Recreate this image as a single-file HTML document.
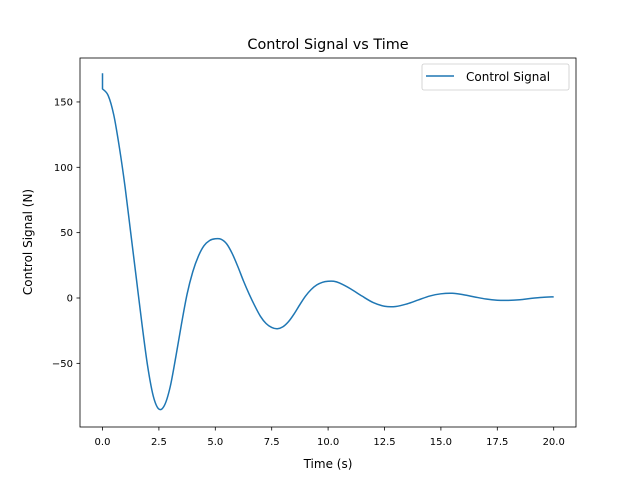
<!DOCTYPE html>
<html><head><meta charset="utf-8"><style>
body{margin:0;background:#fff;}
svg text{font-family:"DejaVu Sans","Liberation Sans",sans-serif;fill:#000;}
</style></head><body>
<svg width="640" height="480" viewBox="0 0 640 480">
<rect width="640" height="480" fill="#fff"/>
<text x="328" y="49" font-size="14.4" text-anchor="middle">Control Signal vs Time</text>
<g id="plot"></g>
<rect x="80" y="58" width="496" height="369" fill="none" stroke="#000" stroke-width="0.8"/>
<g id="xt"></g><g id="yt"></g>
<text x="328" y="468" font-size="12" text-anchor="middle">Time (s)</text>
<text transform="translate(32,242) rotate(-90)" font-size="12" text-anchor="middle">Control Signal (N)</text>
<g>
<rect x="422" y="64" width="147" height="26" rx="2" fill="#fff" stroke="#ccc" stroke-width="0.8"/>
<line x1="426" y1="76" x2="454" y2="76" stroke="#1f77b4" stroke-width="1.5"/>
<text x="466" y="81" font-size="12">Control Signal</text>
</g>
</svg>
<script>
const times=[0,0,0.25,0.5,0.75,1,1.25,1.5,1.75,2,2.25,2.5,2.75,3,3.25,3.5,3.75,4,4.25,4.5,4.75,5,5.25,5.5,5.75,6,6.25,6.5,6.75,7,7.25,7.5,7.75,8,8.25,8.5,8.75,9,9.25,9.5,9.75,10,10.25,10.5,11,11.5,12,12.5,13,13.5,14,14.5,15,15.5,16,16.5,17,17.5,18,18.5,19,19.5,20];
const signal=[172,160,155,140,115,85,50,15,-20,-52,-75,-85,-82,-68,-45,-20,3,20,32,40,44,45.3,45,41.5,34,24,13,3,-6,-14,-19.5,-22.5,-23.5,-22,-18,-12,-5,1.5,6.5,10,12,12.8,12.8,11.5,7,1.5,-3.5,-6.3,-6.5,-4.5,-1.5,1.5,3.2,3.6,2.5,0.8,-0.8,-1.7,-1.8,-1.3,-0.3,0.5,0.9];
const xTicks=[0,2.5,5,7.5,10,12.5,15,17.5,20];
const xTickLabels=["0.0","2.5","5.0","7.5","10.0","12.5","15.0","17.5","20.0"];
const yTicks=[-50,0,50,100,150];
const yTickLabels=["\u221250","0","50","100","150"];
const X=t=>102.5+t*22.56;
const Y=v=>298-v*1.307;
const NS="http://www.w3.org/2000/svg";
const plot=document.getElementById('plot');
let d=`M${X(times[0])},${Y(signal[0])} L${X(times[1])},${Y(signal[1])}`;
for(let i=1;i<times.length-1;i++){
  const p0=[X(times[Math.max(1,i-1)]),Y(signal[Math.max(1,i-1)])],p1=[X(times[i]),Y(signal[i])],p2=[X(times[i+1]),Y(signal[i+1])],p3=[X(times[Math.min(times.length-1,i+2)]),Y(signal[Math.min(times.length-1,i+2)])];
  const c1=[p1[0]+(p2[0]-p0[0])/6,p1[1]+(p2[1]-p0[1])/6],c2=[p2[0]-(p3[0]-p1[0])/6,p2[1]-(p3[1]-p1[1])/6];
  d+=` C${c1[0]},${c1[1]} ${c2[0]},${c2[1]} ${p2[0]},${p2[1]}`;
}
const path=document.createElementNS(NS,'path');
path.setAttribute('d',d);path.setAttribute('fill','none');path.setAttribute('stroke','#1f77b4');path.setAttribute('stroke-width','1.5');


plot.appendChild(path);
const xt=document.getElementById('xt');
xTicks.forEach((t,i)=>{
  const l=document.createElementNS(NS,'line');
  l.setAttribute('x1',X(t));l.setAttribute('x2',X(t));l.setAttribute('y1',427);l.setAttribute('y2',430.5);l.setAttribute('stroke','#000');l.setAttribute('stroke-width','0.8');
  
  
  xt.appendChild(l);
  const tx=document.createElementNS(NS,'text');
  tx.setAttribute('x',X(t));tx.setAttribute('y',445);tx.setAttribute('font-size','10');tx.setAttribute('text-anchor','middle');tx.textContent=xTickLabels[i];
  
  
  xt.appendChild(tx);
});
const yt=document.getElementById('yt');
yTicks.forEach((v,i)=>{
  const l=document.createElementNS(NS,'line');
  l.setAttribute('x1',76.5);l.setAttribute('x2',80);l.setAttribute('y1',Y(v));l.setAttribute('y2',Y(v));l.setAttribute('stroke','#000');l.setAttribute('stroke-width','0.8');
  
  
  yt.appendChild(l);
  const tx=document.createElementNS(NS,'text');
  tx.setAttribute('x',73);tx.setAttribute('y',Y(v)+3.5);tx.setAttribute('font-size','10');tx.setAttribute('text-anchor','end');tx.textContent=yTickLabels[i];
  
  
  yt.appendChild(tx);
});
</script>
</body></html>
